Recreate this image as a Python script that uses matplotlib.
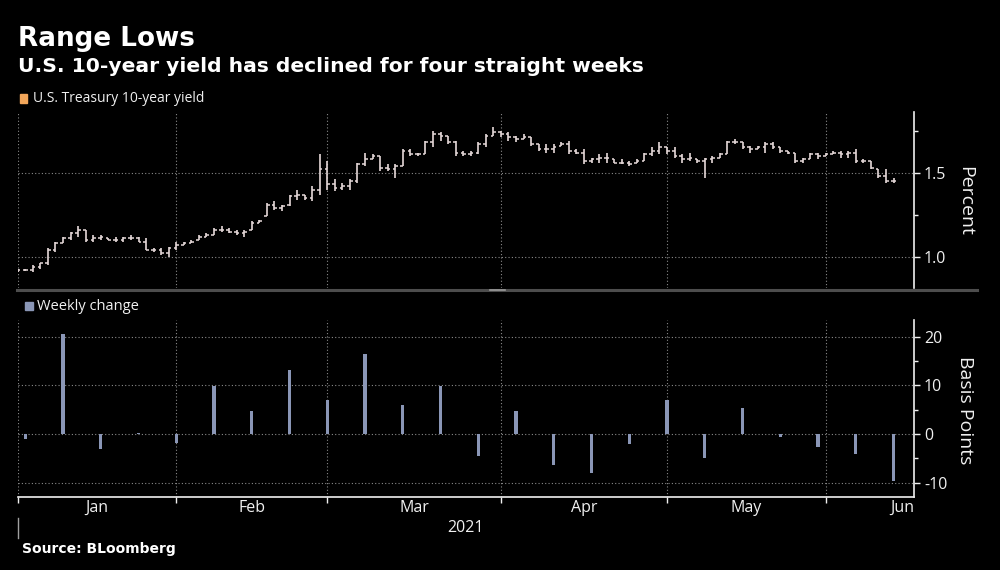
import numpy as np
import pandas as pd
import matplotlib
matplotlib.use('Agg')
import matplotlib.pyplot as plt
from matplotlib.lines import Line2D
from matplotlib.patches import Rectangle
import matplotlib.transforms as mtransforms

plt.rcParams['font.family'] = ['Open Sans', 'DejaVu Sans']
plt.rcParams['axes.unicode_minus'] = False

## DATA
dates = pd.bdate_range('2021-01-01', '2021-06-14')  # weekday axis, 117 days

opens = [0.92, 0.92, 0.92, 0.94, 0.96, 1.04, 1.08, 1.11, 1.14, 1.16,
         1.10, 1.11, 1.11, 1.10, 1.10, 1.11, 1.11, 1.09, 1.04, 1.04,
         1.02, 1.05, 1.07, 1.08, 1.10, 1.12, 1.13, 1.16, 1.16, 1.15,
         1.14, 1.16, 1.20, 1.24, 1.31, 1.29, 1.31, 1.36, 1.37, 1.35,
         1.40, 1.52, 1.43, 1.41, 1.42, 1.45, 1.55, 1.58, 1.60, 1.53,
         1.52, 1.54, 1.63, 1.61, 1.61, 1.68, 1.73, 1.72, 1.68, 1.62,
         1.61, 1.62, 1.67, 1.72, 1.74, 1.73, 1.71, 1.70, 1.71, 1.67,
         1.64, 1.64, 1.66, 1.67, 1.63, 1.62, 1.57, 1.58, 1.59, 1.58,
         1.56, 1.56, 1.56, 1.57, 1.61, 1.63, 1.65, 1.63, 1.60, 1.58,
         1.58, 1.57, 1.58, 1.59, 1.61, 1.68, 1.68, 1.65, 1.64, 1.65,
         1.67, 1.65, 1.63, 1.62, 1.57, 1.58, 1.61, 1.60, 1.61, 1.62,
         1.61, 1.62, 1.57, 1.57, 1.52, 1.48, 1.45]
highs = [0.93, 0.925, 0.95, 0.96, 1.05, 1.09, 1.12, 1.15, 1.18, 1.16,
         1.13, 1.13, 1.11, 1.12, 1.12, 1.13, 1.12, 1.11, 1.05, 1.05,
         1.06, 1.09, 1.09, 1.10, 1.13, 1.14, 1.17, 1.18, 1.17, 1.16,
         1.16, 1.21, 1.22, 1.32, 1.33, 1.31, 1.37, 1.40, 1.37, 1.42,
         1.61, 1.57, 1.46, 1.44, 1.46, 1.56, 1.62, 1.61, 1.60, 1.55,
         1.55, 1.64, 1.64, 1.62, 1.69, 1.75, 1.74, 1.72, 1.69, 1.63,
         1.63, 1.68, 1.73, 1.77, 1.75, 1.74, 1.72, 1.73, 1.71, 1.67,
         1.67, 1.67, 1.68, 1.69, 1.64, 1.64, 1.59, 1.61, 1.62, 1.58,
         1.58, 1.57, 1.58, 1.62, 1.65, 1.68, 1.65, 1.65, 1.61, 1.62,
         1.58, 1.59, 1.60, 1.62, 1.69, 1.70, 1.68, 1.66, 1.66, 1.68,
         1.68, 1.65, 1.63, 1.62, 1.59, 1.62, 1.62, 1.62, 1.63, 1.63,
         1.63, 1.64, 1.58, 1.57, 1.52, 1.52, 1.47]
lows = [0.91, 0.915, 0.91, 0.93, 0.95, 1.03, 1.08, 1.10, 1.12, 1.09,
        1.09, 1.10, 1.10, 1.09, 1.09, 1.10, 1.09, 1.04, 1.03, 1.01,
        1.00, 1.04, 1.07, 1.08, 1.10, 1.12, 1.13, 1.15, 1.14, 1.13,
        1.12, 1.16, 1.20, 1.24, 1.28, 1.27, 1.30, 1.34, 1.34, 1.33,
        1.37, 1.40, 1.39, 1.40, 1.40, 1.44, 1.54, 1.58, 1.51, 1.51,
        1.47, 1.54, 1.60, 1.60, 1.61, 1.65, 1.69, 1.67, 1.60, 1.60,
        1.60, 1.61, 1.65, 1.72, 1.71, 1.69, 1.68, 1.70, 1.66, 1.63,
        1.62, 1.62, 1.66, 1.61, 1.61, 1.55, 1.56, 1.56, 1.56, 1.56,
        1.55, 1.54, 1.56, 1.57, 1.60, 1.61, 1.61, 1.59, 1.56, 1.57,
        1.56, 1.47, 1.56, 1.59, 1.61, 1.67, 1.64, 1.62, 1.64, 1.62,
        1.64, 1.62, 1.61, 1.56, 1.56, 1.58, 1.58, 1.60, 1.61, 1.59,
        1.59, 1.56, 1.56, 1.52, 1.47, 1.44, 1.44]
closes = [0.92, 0.92, 0.94, 0.96, 1.04, 1.08, 1.11, 1.14, 1.16, 1.10,
          1.11, 1.12, 1.10, 1.10, 1.11, 1.11, 1.09, 1.04, 1.04, 1.02,
          1.05, 1.07, 1.08, 1.09, 1.12, 1.13, 1.16, 1.16, 1.15, 1.14,
          1.15, 1.20, 1.21, 1.31, 1.29, 1.30, 1.36, 1.37, 1.35, 1.40,
          1.52, 1.43, 1.41, 1.42, 1.45, 1.55, 1.58, 1.60, 1.53, 1.52,
          1.54, 1.63, 1.61, 1.61, 1.68, 1.73, 1.72, 1.68, 1.62, 1.61,
          1.62, 1.67, 1.72, 1.74, 1.73, 1.71, 1.70, 1.71, 1.67, 1.64,
          1.64, 1.65, 1.67, 1.63, 1.62, 1.57, 1.58, 1.59, 1.59, 1.56,
          1.56, 1.55, 1.57, 1.61, 1.63, 1.65, 1.63, 1.60, 1.58, 1.59,
          1.57, 1.58, 1.59, 1.61, 1.68, 1.68, 1.65, 1.64, 1.65, 1.67,
          1.65, 1.63, 1.62, 1.57, 1.58, 1.61, 1.60, 1.61, 1.62, 1.61,
          1.62, 1.57, 1.57, 1.53, 1.48, 1.45, 1.45]

week_starts = pd.date_range('2021-01-04', '2021-06-14', freq='W-MON')
weekly_change = [-1.0, 20.5, -3.1, 0.2, -1.9, 9.9, 4.7, 13.1, 7.0, 16.4, 6.0, 9.8,
                 -4.4, 4.7, -6.4, -7.9, -2.1, 7.0, -4.9, 5.3, -0.6, -2.7, -4.0, -9.7]

month_labels = ['Jan', 'Feb', 'Mar', 'Apr', 'May', 'Jun']
year_label = '2021'

## STYLE
BG = 'black'
FG = '#f0f0f0'
BAR_COL = '#e6d9d9'
ORANGE = '#f2a65a'
SLATE = '#8a96b6'
GRID = '#8a8a8a'
X_MAX = 118.75

x = np.arange(len(dates))
month_start = np.flatnonzero(np.r_[True, dates.month[1:] != dates.month[:-1]])
week_x = dates.get_indexer(week_starts)

fig = plt.figure(figsize=(10, 5.7), dpi=100, facecolor=BG)
ax1 = fig.add_axes([0.0177, 0.4947, 0.8966, 0.3088], facecolor=BG)
ax2 = fig.add_axes([0.0177, 0.1281, 0.8966, 0.3105], facecolor=BG)

def style_axis(ax):
    for side in ['top', 'left', 'bottom']:
        ax.spines[side].set_visible(False)
    ax.spines['right'].set_color(FG)
    ax.spines['right'].set_linewidth(1.2)
    ax.yaxis.tick_right()
    ax.tick_params(axis='y', which='both', colors=FG, labelsize=11.5, pad=3)
    ax.tick_params(axis='y', which='major', length=4, width=1)
    ax.tick_params(axis='y', which='minor', length=3, width=1)
    ax.set_xticks(month_start)
    ax.set_xticklabels([])
    ax.grid(True, which='major', color=GRID, linestyle=(0, (1, 2)), linewidth=0.8)
    ax.set_xlim(0, X_MAX)

## Top panel: OHLC bars
o = np.array(opens); c = np.array(closes)
hi = np.maximum(np.array(highs), np.maximum(o, c))
lo = np.minimum(np.array(lows), np.minimum(o, c))
ax1.vlines(x, lo, hi, color=BAR_COL, linewidth=1.2)
ax1.hlines(o, x - 0.35, x, color=BAR_COL, linewidth=1.1)
ax1.hlines(c, x, x + 0.35, color=BAR_COL, linewidth=1.1)
style_axis(ax1)
ax1.set_ylim(0.814, 1.861)
ax1.set_yticks([1.0, 1.5])
ax1.set_yticklabels(['1.0', '1.5'])
ax1.set_yticks([1.25, 1.75], minor=True)
ax1.tick_params(axis='x', length=0)

## Bottom panel: weekly change
ax2.bar(week_x, weekly_change, width=0.42, color=SLATE, zorder=3)
style_axis(ax2)
ax2.set_ylim(-12.9, 23.4)
ax2.set_yticks([-10, 0, 10, 20])
ax2.set_yticks([-5, 5, 15], minor=True)
ax2.spines['bottom'].set_visible(True)
ax2.spines['bottom'].set_color(FG)
ax2.spines['bottom'].set_linewidth(1.2)
ax2.tick_params(axis='x', colors=FG, length=4, width=1, direction='out')

trans = mtransforms.blended_transform_factory(ax2.transData, ax2.transAxes)
bounds = list(month_start) + [None]
for i, lab in enumerate(month_labels):
    if bounds[i + 1] is None:
        ax2.text(X_MAX, -0.062, lab, transform=trans, ha='right', va='center',
                 color=FG, fontsize=11.5)
    else:
        ax2.text((bounds[i] + bounds[i + 1]) / 2, -0.062, lab, transform=trans,
                 ha='center', va='center', color=FG, fontsize=11.5)
ax2.text(X_MAX / 2, -0.175, year_label, transform=trans, ha='center', va='center',
         color=FG, fontsize=11.5)
ax2.plot([0, 0], [-0.119, -0.232], transform=trans, color='#a0a0a0',
         linewidth=1, clip_on=False)

## Side labels
fig.text(0.965, 1 - 201 / 570, 'Percent', rotation=270, ha='center', va='center',
         color=FG, fontsize=14)
fig.text(0.965, 1 - 410 / 570, 'Basis Points', rotation=270, ha='center', va='center',
         color=FG, fontsize=14)

## Divider between panels
fig.add_artist(Line2D([0.017, 0.977], [1 - 289.5 / 570] * 2, color='#4d4d4d', linewidth=2.2))
fig.add_artist(Line2D([0.490, 0.505], [1 - 289.5 / 570] * 2, color='#9a9a9a', linewidth=1.2))

## Legends
fig.patches.append(Rectangle((0.020, 1 - 103 / 570), 0.007, 9 / 570, color=ORANGE,
                             transform=fig.transFigure, figure=fig))
fig.text(0.033, 1 - 98 / 570, 'U.S. Treasury 10-year yield', color=FG, fontsize=10,
         va='center')
fig.patches.append(Rectangle((0.025, 1 - 310 / 570), 0.008, 8 / 570, color=SLATE,
                             transform=fig.transFigure, figure=fig))
fig.text(0.037, 1 - 306 / 570, 'Weekly change', color=FG, fontsize=10.5, va='center')

## Titles & source
fig.text(0.018, 1 - 46 / 570, 'Range Lows', color='white', fontsize=18.9,
         fontweight='bold', family='DejaVu Sans', va='baseline')
fig.text(0.018, 1 - 72 / 570, 'U.S. 10-year yield has declined for four straight weeks',
         color='white', fontsize=14.55, fontweight='bold', family='DejaVu Sans', va='baseline')
fig.text(0.022, 1 - 553 / 570, 'Source: BLoomberg', color='white', fontsize=10,
         fontweight='bold', family='DejaVu Sans', va='baseline')

fig.savefig('out.png', dpi=100, facecolor=BG)
